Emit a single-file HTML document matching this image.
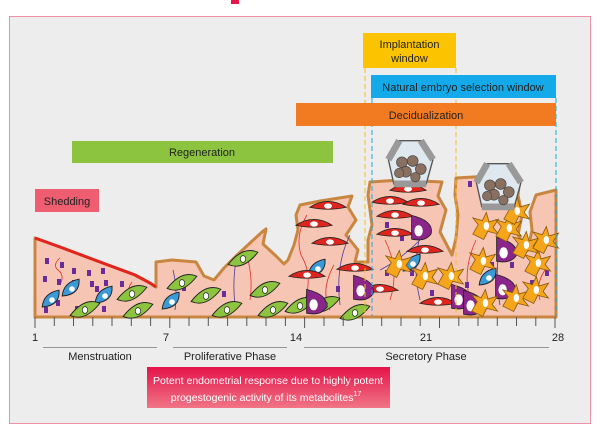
<!DOCTYPE html>
<html><head><meta charset="utf-8"><style>
body{margin:0;background:#fff;}
svg{display:block;font-family:"Liberation Sans",sans-serif;}
</style></head><body>
<svg width="600" height="438" viewBox="0 0 600 438" xmlns="http://www.w3.org/2000/svg">
<defs>
<linearGradient id="pg" x1="0" y1="0" x2="0" y2="1"><stop offset="0" stop-color="#e5134a"/><stop offset="1" stop-color="#f07585"/></linearGradient>
<g id="gr"><g transform="scale(1.35)"><path d="M-11,4 Q0,-10 11,-5 Q0,9 -11,4Z" fill="#8cc43f" stroke="#222" stroke-width="0.7"/><ellipse cx="0" cy="0" rx="2" ry="2.5" fill="#fff" stroke="#222" stroke-width="0.5"/></g></g>
<g id="bl"><g transform="scale(1.4)"><path d="M-7,5 Q-6,-5 5,-7 Q6,4 -7,5Z" fill="#3a9ad8" stroke="#222" stroke-width="0.7"/><ellipse cx="0" cy="0" rx="2" ry="2" fill="#fff"/></g></g>
<g id="rd"><g transform="scale(1.3)"><path d="M-14,1 Q0,-8 14,1 Q0,4 -14,1Z" fill="#e0251e" stroke="#222" stroke-width="0.6"/><ellipse cx="0" cy="0" rx="3" ry="2" fill="#fff"/></g></g>
<g id="pu"><g transform="scale(1.4)"><path d="M-6,-9 Q10,-5 8,4 Q4,10 -6,8Z" fill="#8a2589" stroke="#222" stroke-width="0.6"/><ellipse cx="-1" cy="2" rx="3" ry="4" fill="#fff"/></g></g>
<g id="or"><g transform="scale(1.35)"><path d="M-9,6 L-5,-1 L-9,-6 L-2,-4 L1,-10 L3,-3 L10,-5 L6,1 L10,6 L2,4 L-1,10 Z" fill="#f4a51c" stroke="#8a5a10" stroke-width="0.6"/><ellipse cx="1" cy="0" rx="2" ry="3" fill="#fff"/></g></g>
<rect id="sq" x="0" y="0" width="4" height="6" fill="#6a2c9a"/>
<g id="emb"><g transform="scale(1.35)"><path d="M-16,-4 L-8,-18 L8,-18 L17,-4 L12,14 L-12,14 Z" fill="#dfe8ef" stroke="#555" stroke-width="1"/><path d="M-16,-4 L-8,-18 M8,-18 L17,-4 M12,14 L-12,14" stroke="#999" stroke-width="5" fill="none"/><g fill="#8a7060" stroke="#444" stroke-width="0.5"><circle cx="-6" cy="-2" r="4"/><circle cx="2" cy="-3" r="4"/><circle cx="8" cy="3" r="4"/><circle cx="-3" cy="5" r="4"/><circle cx="4" cy="9" r="3.5"/><circle cx="-8" cy="6" r="3.5"/></g></g></g>
</defs>
<rect x="0" y="0" width="600" height="438" fill="#fff"/>
<rect x="9.5" y="16.5" width="581" height="407" fill="#ededed" stroke="#f090a8" stroke-width="1"/>
<path d="M35,238 L60,247 L100,262 L135,275 L150,283 L156,287 L156,262 L172,260 L196,262 L204,276 L214,280 L224,268 L236,256 L262,232 L266,229 L263,244 L276,256 L284,264 L288,260 L294,245 L298,230 L296,215 L300,205 L320,201 L352,196 L348,207 L356,220 L346,235 L358,250 L355,262 L368,262 L368,240 L372,225 L370,210 L368,195 L370,182 L400,180 L442,182 L438,196 L446,210 L440,232 L452,255 L456,238 L458,215 L455,195 L456,178 L490,176 L520,178 L518,195 L522,215 L518,235 L528,250 L532,230 L530,212 L536,195 L556,190 L556,317 L35,317 Z" fill="#f6c5b3" stroke="#c98640" stroke-width="3" stroke-linejoin="round"/>
<path d="M35,238 L60,247 L100,262 L135,275 L150,283 L156,287" fill="none" stroke="#e2251e" stroke-width="3"/>
<g fill="none" stroke-width="0.8">
<path d="M60,285 q5,-10 -2,-15 q-6,-5 2,-12 M130,300 q-4,-10 2,-18 M250,300 q3,-20 -2,-40 M305,300 q8,-25 -4,-45 q-6,-20 6,-40 M330,310 q-10,-20 4,-45 M390,300 q10,-30 -5,-60 M470,300 q-8,-30 6,-60 M540,300 q-5,-15 5,-30" stroke="#e0302a"/>
<path d="M175,310 q3,-20 -2,-40 M235,305 q-3,-25 2,-50 M340,305 q-5,-40 10,-70 M420,300 q-10,-40 5,-80 M500,305 q-8,-40 6,-80 M380,270 q20,-10 40,-30" stroke="#4a3a9a"/>
</g>
<g>
<use href="#sq" x="45" y="258"/><use href="#sq" x="60" y="262"/><use href="#sq" x="72" y="268"/><use href="#sq" x="87" y="270"/><use href="#sq" x="101" y="268"/><use href="#sq" x="43" y="276"/><use href="#sq" x="57" y="279"/><use href="#sq" x="72" y="280"/><use href="#sq" x="90" y="281"/><use href="#sq" x="104" y="280"/><use href="#sq" x="120" y="281"/><use href="#sq" x="56" y="300"/><use href="#sq" x="95" y="286"/><use href="#sq" x="44" y="307"/><use href="#sq" x="75" y="306"/><use href="#sq" x="102" y="306"/><use href="#sq" x="182" y="285"/><use href="#sq" x="222" y="291"/><use href="#sq" x="295" y="306"/><use href="#sq" x="336" y="286"/><use href="#sq" x="385" y="270"/><use href="#sq" x="410" y="270"/><use href="#sq" x="430" y="290"/><use href="#sq" x="465" y="282"/><use href="#sq" x="490" y="262"/><use href="#sq" x="505" y="282"/><use href="#sq" x="515" y="296"/><use href="#sq" x="530" y="280"/><use href="#sq" x="545" y="270"/><use href="#sq" x="468" y="181"/><use href="#sq" x="510" y="262"/><use href="#sq" x="400" y="235"/><use href="#sq" x="385" y="222"/>
</g>
<g>
<use href="#bl" x="52" y="300"/><use href="#bl" x="72" y="289"/><use href="#bl" x="105" y="296"/><use href="#bl" x="172" y="302"/><use href="#bl" x="318" y="269"/><use href="#bl" x="413" y="264"/><use href="#bl" x="489" y="278"/>
<use href="#gr" x="85" y="310"/><use href="#gr" x="132" y="294"/><use href="#gr" x="138" y="311"/><use href="#gr" x="182" y="283"/><use href="#gr" x="206" y="296"/><use href="#gr" x="227" y="310"/><use href="#gr" x="243" y="259"/><use href="#gr" x="265" y="290"/><use href="#gr" x="273" y="310"/><use href="#gr" x="300" y="306"/><use href="#gr" x="325" y="305"/><use href="#gr" x="355" y="313"/>
<use href="#rd" x="328" y="206"/><use href="#rd" x="314" y="224"/><use href="#rd" x="330" y="242"/><use href="#rd" x="307" y="275"/><use href="#rd" x="355" y="268"/><use href="#rd" x="408" y="189"/><use href="#rd" x="390" y="201"/><use href="#rd" x="421" y="203"/><use href="#rd" x="395" y="215"/><use href="#rd" x="395" y="233"/><use href="#rd" x="425" y="250"/><use href="#rd" x="380" y="289"/><use href="#rd" x="438" y="302"/>
<use href="#pu" x="315" y="302"/><use href="#pu" x="362" y="288"/><use href="#pu" x="420" y="228"/><use href="#pu" x="460" y="297"/><use href="#pu" x="505" y="250"/><use href="#pu" x="504" y="287"/><use href="#pu" x="472" y="303"/>
<use href="#or" x="398" y="264"/><use href="#or" x="424" y="276"/><use href="#or" x="450" y="276"/><use href="#or" x="485" y="226"/><use href="#or" x="508" y="228"/><use href="#or" x="516" y="211"/><use href="#or" x="482" y="261"/><use href="#or" x="484" y="303"/><use href="#or" x="515" y="298"/><use href="#or" x="537" y="263"/><use href="#or" x="525" y="245"/><use href="#or" x="535" y="290"/><use href="#or" x="545" y="240"/>
<use href="#emb" x="410" y="165"/><use href="#emb" x="498" y="188"/>
</g>
<g stroke-width="1" stroke-dasharray="5,3" fill="none">
<path d="M365,68 V316 M456,68 V316" stroke="#f4c020"/>
<path d="M372,98 V316 M556,98 V316" stroke="#1aa9e8"/>
</g>
<rect x="363" y="33" width="93" height="35" fill="#fcc400"/>
<text x="409.5" y="48" font-size="11" text-anchor="middle" fill="#222">Implantation</text>
<text x="409.5" y="62" font-size="11" text-anchor="middle" fill="#222">window</text>
<rect x="371" y="75" width="185" height="23" fill="#14aaea"/>
<text x="463" y="91" font-size="11" text-anchor="middle" fill="#222">Natural embryo selection window</text>
<rect x="296" y="103" width="260" height="23" fill="#f27a20"/>
<text x="426" y="119" font-size="11" text-anchor="middle" fill="#222">Decidualization</text>
<rect x="72" y="141" width="261" height="22" fill="#8cc43f"/>
<text x="202" y="156" font-size="11" text-anchor="middle" fill="#222">Regeneration</text>
<rect x="35" y="189" width="64" height="23" fill="#ee5d70"/>
<text x="67" y="205" font-size="11" text-anchor="middle" fill="#222">Shedding</text>
<g stroke="#555" stroke-width="1">
<path d="M35,317 V328 M54.3,317 V326 M73.5,317 V326 M92.8,317 V326 M112,317 V326 M131.3,317 V326 M150.6,317 V326 M169.8,317 V328 M189,317 V326 M208.3,317 V326 M227.6,317 V326 M246.8,317 V326 M266,317 V326 M285.4,317 V326 M304.6,317 V328 M324,317 V326 M343.2,317 V326 M362.4,317 V326 M381.7,317 V326 M401,317 V326 M420.2,317 V326 M439.5,317 V328 M458.8,317 V326 M478,317 V326 M497.3,317 V326 M516.5,317 V326 M535.8,317 V326 M555,317 V328"/>
</g>
<g font-size="11" fill="#222" text-anchor="middle">
<text x="35" y="341">1</text><text x="166" y="341">7</text><text x="296" y="341">14</text><text x="426" y="341">21</text><text x="558" y="341">28</text>
</g>
<g stroke="#777" stroke-width="0.8"><path d="M43,347.5 H157 M173,347.5 H287 M304,347.5 H549"/></g>
<g font-size="11" fill="#222" text-anchor="middle">
<text x="100" y="360">Menstruation</text><text x="230" y="360">Proliferative Phase</text><text x="426" y="360">Secretory Phase</text>
</g>
<rect x="147" y="367" width="243" height="41" fill="url(#pg)"/>
<text x="268" y="384" font-size="10.5" fill="#fff" text-anchor="middle" textLength="230" lengthAdjust="spacingAndGlyphs">Potent endometrial response due to highly potent</text>
<text x="266" y="401" font-size="10.5" fill="#fff" text-anchor="middle">progestogenic activity of its metabolites<tspan font-size="7" dy="-5">17</tspan></text>
<rect x="231" y="0" width="8" height="4" fill="#e8154b"/>
</svg>
</body></html>
